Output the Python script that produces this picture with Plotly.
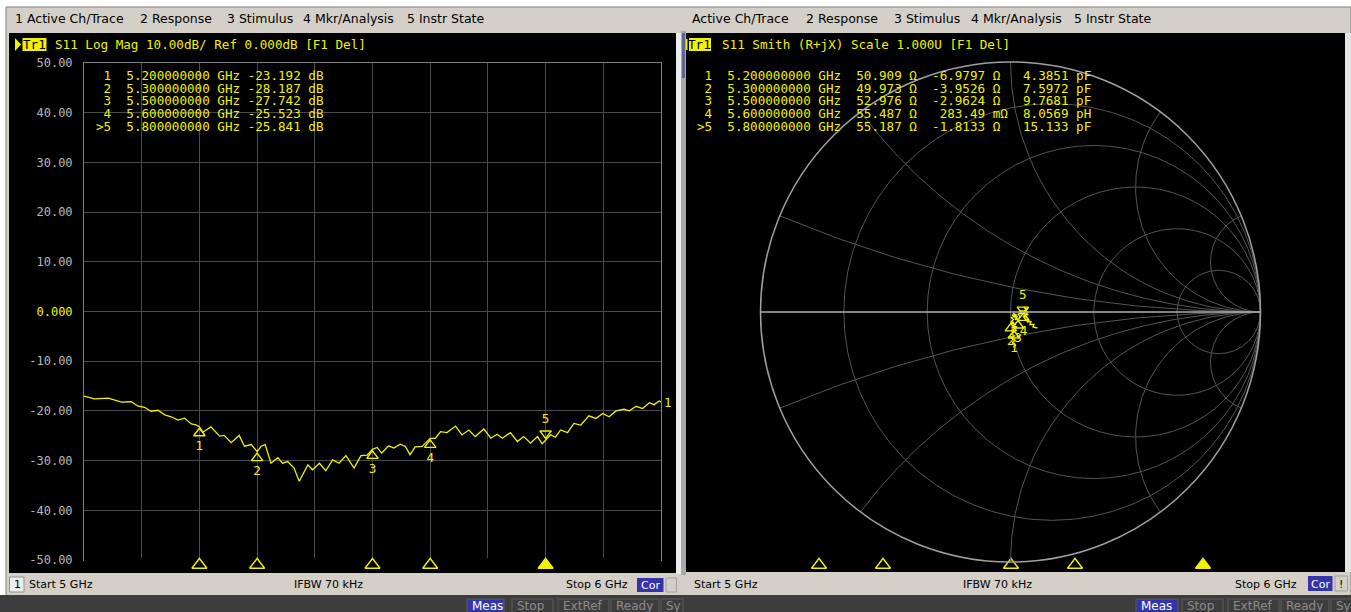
import numpy as np
import plotly.graph_objects as go

W, H = 1351, 612
YEL = "#f2f200"
GRID = "#4a4a4a"
FRAME = "#808080"
UI = "#d4d0c8"
MONO = "DejaVu Sans Mono"
SANS = "DejaVu Sans"

# ---- S11 log-magnitude sweep, 5-6 GHz ----
freq_ghz = [5.000, 5.018, 5.042, 5.053, 5.065, 5.082, 5.093, 5.105, 5.116, 5.128,
            5.140, 5.151, 5.163, 5.174, 5.186, 5.194, 5.200, 5.206, 5.220, 5.235,
            5.243, 5.255, 5.269, 5.278, 5.290, 5.300, 5.307, 5.314, 5.324, 5.336,
            5.344, 5.353, 5.364, 5.373, 5.388, 5.396, 5.408, 5.419, 5.431, 5.442,
            5.454, 5.468, 5.480, 5.491, 5.500, 5.508, 5.516, 5.528, 5.537, 5.548,
            5.557, 5.565, 5.574, 5.586, 5.600, 5.609, 5.618, 5.629, 5.644, 5.655,
            5.667, 5.678, 5.693, 5.705, 5.716, 5.725, 5.739, 5.751, 5.762, 5.774,
            5.786, 5.794, 5.800, 5.809, 5.817, 5.826, 5.838, 5.849, 5.861, 5.875,
            5.887, 5.899, 5.910, 5.922, 5.936, 5.945, 5.957, 5.968, 5.980, 5.988,
            5.997, 6.000]
s11_db = [-17.04, -17.57, -17.43, -17.83, -18.22, -18.16, -19.01, -19.28, -20.07, -19.87,
          -20.79, -21.18, -21.84, -21.45, -22.63, -22.83, -23.192, -24.28, -23.22, -25.07,
          -24.93, -26.38, -24.93, -27.11, -26.78, -28.187, -27.11, -26.78, -30.53, -29.41,
          -30.53, -30.20, -31.51, -34.14, -30.86, -31.84, -30.53, -32.04, -29.87, -30.53,
          -29.01, -31.51, -29.01, -28.88, -27.742, -27.35, -28.48, -27.02, -27.48, -26.69,
          -27.15, -28.81, -27.22, -27.15, -25.523, -25.50, -24.17, -24.37, -23.05, -24.83,
          -23.84, -25.17, -23.64, -25.50, -24.70, -25.50, -24.37, -26.16, -25.17, -26.49,
          -25.17, -26.62, -25.841, -24.83, -25.30, -23.84, -24.37, -22.52, -22.85, -20.99,
          -21.52, -20.53, -21.19, -20.00, -19.67, -20.00, -19.07, -19.54, -18.34, -18.74,
          -18.01, -18.21]

# ---- S11 reflection coefficient (Smith trace), 5-6 GHz ----
smith_gamma_re = [0.012, 0.020, 0.008, 0.018, 0.006, 0.016, 0.004, 0.014, 0.004, 0.014,
                  0.026, 0.008, 0.022, 0.004, 0.014, 0.001, 0.012, 0.002, 0.016, 0.006,
                  0.020, 0.010, 0.024, 0.014, 0.028, 0.018, 0.030, 0.040, 0.030, 0.044,
                  0.036, 0.048, 0.052, 0.062, 0.054, 0.066, 0.058, 0.070, 0.060, 0.072,
                  0.056, 0.064, 0.050, 0.060, 0.072, 0.066, 0.082, 0.078, 0.094, 0.090,
                  0.108]
smith_gamma_im = [-0.140, -0.132, -0.122, -0.112, -0.104, -0.095, -0.088, -0.080, -0.074, -0.068,
                  -0.060, -0.056, -0.050, -0.046, -0.042, -0.040, -0.030, -0.022, -0.018, -0.012,
                  -0.010, -0.004, -0.012, -0.020, -0.018, -0.030, -0.028, -0.020, -0.008, -0.006,
                  0.006, 0.004, 0.003, 0.010, 0.020, 0.012, 0.004, 0.000, -0.006, -0.010,
                  -0.012, -0.022, -0.016, -0.030, -0.028, -0.040, -0.038, -0.050, -0.050, -0.060,
                  -0.064]

# ---- markers ----
mkr_id = ["1", "2", "3", "4", "5"]
mkr_freq = [5.2, 5.3, 5.5, 5.6, 5.8]
mkr_db = [-23.192, -28.187, -27.742, -25.523, -25.841]
mkr_r_ohm = [50.909, 49.973, 52.976, 55.487, 55.187]
mkr_x_ohm = [-6.9797, -3.9526, -2.9624, 0.28349, -1.8133]
mkr_x_num = ["-6.9797", "-3.9526", "-2.9624", "283.49", "-1.8133"]
mkr_x_unit = ["Ω", "Ω", "Ω", "mΩ", "Ω"]
mkr_lc = ["4.3851 pF", "7.5972 pF", "9.7681 pF", "8.0569 pH", "15.133 pF"]
active_mkr = "5"
z0 = 50.0

y_ticks = [50, 40, 30, 20, 10, 0, -10, -20, -30, -40, -50]
y_tick_text = ["50.00", "40.00", "30.00", "20.00", "10.00",
               f"<span style='color:{YEL}'>0.000</span>",
               "-10.00", "-20.00", "-30.00", "-40.00", "-50.00"]

menu_left = [("1 Active Ch/Trace", 14), ("2 Response", 139), ("3 Stimulus", 225.5),
             ("4 Mkr/Analysis", 302), ("5 Instr State", 405.5)]
menu_right = [("Active Ch/Trace", 691), ("2 Response", 805), ("3 Stimulus", 892.5),
              ("4 Mkr/Analysis", 969.5), ("5 Instr State", 1073)]


def px(x):
    return x / W


def py(y):
    return 1 - y / H


def nb(s):
    return s.replace(" ", "\u00a0")


shapes = []
annotations = []


def rect(x0, y0, x1, y1, fill, line=None, lw=1):
    shapes.append(dict(type="rect", xref="paper", yref="paper", layer="below",
                       x0=px(x0), x1=px(x1), y0=py(y1), y1=py(y0),
                       fillcolor=fill,
                       line=dict(color=line or fill, width=lw if line else 0)))


def tri_right(x0, y0, x1, y1, color):
    ym = (y0 + y1) / 2
    shapes.append(dict(type="path", xref="paper", yref="paper", layer="above",
                       path=f"M {px(x0)} {py(y0)} L {px(x1)} {py(ym)} L {px(x0)} {py(y1)} Z",
                       fillcolor=color, line=dict(width=0)))


def text(x, y, s, size, color, family, xanchor="left", yanchor="middle"):
    annotations.append(dict(x=px(x), y=py(y), xref="paper", yref="paper", text=nb(s),
                            showarrow=False, xanchor=xanchor, yanchor=yanchor,
                            borderpad=0, font=dict(size=size, color=color, family=family)))


# ---- window chrome ----
rect(6, 7, 1351, 612, UI, "#808080")
rect(9, 33, 676, 573, "black")
rect(676, 33, 681, 574, "#ececec")
rect(681, 31, 686, 575, "#a9a9a9")
rect(682, 33, 685, 78, "#5f6590")
rect(686, 33, 1345, 572, "black")
rect(1345, 33, 1351, 572, "#e4e4e4")

# status bars
rect(9.5, 577, 24, 592, "#ececec", "#909090")
rect(637, 578, 663.5, 592, "#3434a8")
rect(666, 578, 676.5, 592, UI, "#a0a0a0")
rect(1308, 576, 1332.5, 591, "#3434a8")
rect(1335, 576, 1347.5, 591, UI, "#a0a0a0")

# bottom indicator strip
rect(0, 595, 1351, 612, "#3d3d3d")
for x0, x1, lab, fill in [(467, 504, "Meas", "#3434a8"), (512, 553, "Stop", "#3d3d3d"),
                          (558, 609, "ExtRef", "#3d3d3d"), (611, 659, "Ready", "#3d3d3d"),
                          (661, 683, "Sy", "#3d3d3d"),
                          (1136, 1178, "Meas", "#3434a8"), (1182, 1223, "Stop", "#3d3d3d"),
                          (1228, 1279, "ExtRef", "#3d3d3d"), (1281, 1329, "Ready", "#3d3d3d"),
                          (1331, 1353, "Sy", "#3d3d3d")]:
    rect(x0, 599, x1, 614, fill, "#5c5c5c")
    text(x0 + 4, 605.5, lab, 12, "white" if lab == "Meas" else "#8c8c8c", SANS)

# menu bars
for lab, x in menu_left + menu_right:
    text(x, 18.5, lab, 12.5, "black", SANS)

# status texts
text(13, 584, "1", 11, "black", SANS)
text(28, 584, "Start 5 GHz", 11, "black", SANS)
text(328, 584, "IFBW 70 kHz", 11, "black", SANS, xanchor="center")
text(629, 584, "Stop 6 GHz", 11, "black", SANS, xanchor="right")
text(650, 585, "Cor", 11, "white", SANS, xanchor="center")
text(693, 584, "Start 5 GHz", 11, "black", SANS)
text(997, 584, "IFBW 70 kHz", 11, "black", SANS, xanchor="center")
text(1298, 584, "Stop 6 GHz", 11, "black", SANS, xanchor="right")
text(1320, 584, "Cor", 11, "white", SANS, xanchor="center")
text(1341, 584, "!", 11, "black", SANS, xanchor="center")

# trace headers
tri_right(15, 38, 21, 51, YEL)
rect(22.5, 38, 46.5, 51, YEL)
text(34.5, 44.5, "Tr1", 12.6, "black", MONO, xanchor="center")
text(54, 44.5, "S11 Log Mag 10.00dB/ Ref 0.000dB [F1 Del]", 12.6, YEL, MONO)
rect(686, 39, 687.5, 50, YEL)
rect(689, 38, 711, 51, YEL)
text(700, 44.5, "Tr1", 12.6, "black", MONO, xanchor="center")
text(721, 44.5, "S11 Smith (R+jX) Scale 1.000U [F1 Del]", 12.6, YEL, MONO)

# marker readouts
for i, m in enumerate(mkr_id):
    pfx = ">" if m == active_mkr else " "
    yy = 75.5 + 12.75 * i
    row_l = f"{pfx}{m}  {mkr_freq[i]:.9f} GHz {mkr_db[i]:.3f} dB"
    text(95, yy, row_l, 12.6, YEL, MONO)
    row_r = (f"{pfx}{m}  {mkr_freq[i]:.9f} GHz  {mkr_r_ohm[i]:.3f} Ω"
             f"{mkr_x_num[i]:>9} {mkr_x_unit[i]:<3} {mkr_lc[i]}")
    text(695.5, yy, row_r, 12.6, YEL, MONO)

# trace number at the end of the log-mag sweep
annotations.append(dict(x=freq_ghz[-1], y=s11_db[-1], xref="x", yref="y", text="1",
                        showarrow=False, xanchor="left", xshift=1,
                        font=dict(family=MONO, size=12.6, color=YEL)))

fig = go.Figure()

# log-mag trace
fig.add_trace(go.Scatter(x=freq_ghz, y=s11_db, mode="lines",
                         line=dict(color=YEL, width=1.3), hoverinfo="skip"))

# on-trace marker symbols (offset a few pixels off the trace point)
px_per_db = (560 - 63) / 100.0
off_db = 6.5 / px_per_db
up = [i for i, m in enumerate(mkr_id) if m != active_mkr]
act = [i for i, m in enumerate(mkr_id) if m == active_mkr]
fig.add_trace(go.Scatter(x=[mkr_freq[i] for i in up], y=[mkr_db[i] - off_db for i in up],
                         mode="markers+text", text=[mkr_id[i] for i in up],
                         textposition="bottom center",
                         textfont=dict(family=MONO, size=12.6, color=YEL),
                         marker=dict(symbol="triangle-up-open", size=10, color=YEL,
                                     line=dict(color=YEL, width=1.4)),
                         cliponaxis=False, hoverinfo="skip"))
fig.add_trace(go.Scatter(x=[mkr_freq[i] for i in act], y=[mkr_db[i] + off_db for i in act],
                         mode="markers+text", text=[mkr_id[i] for i in act],
                         textposition="top center",
                         textfont=dict(family=MONO, size=12.6, color=YEL),
                         marker=dict(symbol="triangle-down-open", size=10, color=YEL,
                                     line=dict(color=YEL, width=1.4)),
                         cliponaxis=False, hoverinfo="skip"))

# reference level arrows
fig.add_trace(go.Scatter(x=[5 - 3.5 / 577, 6 + 8.5 / 577], y=[0, 0], mode="markers",
                         marker=dict(symbol=["triangle-right", "triangle-left"], size=14,
                                     color=YEL, line=dict(width=0)),
                         cliponaxis=False, hoverinfo="skip"))

# stimulus position markers along the bottom of each panel
for xa, ya in [("x3", "y3"), ("x2", "y2")]:
    fig.add_trace(go.Scatter(x=mkr_freq, y=[0.5] * 5, mode="markers", xaxis=xa, yaxis=ya,
                             marker=dict(symbol=["triangle-up" if m == active_mkr else "triangle-up-open"
                                                 for m in mkr_id],
                                         size=13, color=YEL, line=dict(color=YEL, width=1.4)),
                             cliponaxis=False, hoverinfo="skip"))

# Smith chart trace
g = np.array(smith_gamma_re) + 1j * np.array(smith_gamma_im)
z = (1 + g) / (1 - g)
fig.add_trace(go.Scattersmith(real=z.real, imag=z.imag, mode="lines",
                              line=dict(color=YEL, width=1.3), hoverinfo="skip"))

# Smith markers (symbol sits a few pixels off the marker point)
zm = (np.array(mkr_r_ohm) + 1j * np.array(mkr_x_ohm)) / z0
gm = (zm - 1) / (zm + 1)
g_off = 6.5 / 250.0
for idx, sym, pos, sgn in [(up, "triangle-up-open", "bottom center", -1),
                           (act, "triangle-down-open", "top center", 1)]:
    gg = gm[idx] + 1j * sgn * g_off
    zz = (1 + gg) / (1 - gg)
    fig.add_trace(go.Scattersmith(real=zz.real, imag=zz.imag, mode="markers+text",
                                  text=[mkr_id[i] for i in idx], textposition=pos,
                                  textfont=dict(family=MONO, size=12.6, color=YEL),
                                  marker=dict(symbol=sym, size=10, color=YEL,
                                              line=dict(color=YEL, width=1.4)),
                                  hoverinfo="skip"))

fig.update_layout(
    width=W, height=H, margin=dict(l=0, r=0, t=0, b=0, pad=0, autoexpand=False),
    paper_bgcolor="white", plot_bgcolor="black", showlegend=False,
    shapes=shapes, annotations=annotations,
    xaxis=dict(domain=[px(84), px(661)], range=[5, 6], tick0=5, dtick=0.1,
               showticklabels=False, ticks="", showgrid=True, gridcolor=GRID, gridwidth=1,
               showline=True, mirror=True, linecolor=FRAME, linewidth=1, zeroline=False,
               fixedrange=True, automargin=False),
    yaxis=dict(domain=[py(560), py(63)], range=[-50, 50], tickvals=y_ticks,
               ticktext=y_tick_text, tickfont=dict(family=MONO, size=12, color="#b8b8b8"),
               ticks="", ticklabelstandoff=8, showgrid=True, gridcolor=GRID, gridwidth=1,
               showline=True, mirror=True, linecolor=FRAME, linewidth=1, zeroline=False,
               fixedrange=True, automargin=False),
    xaxis2=dict(domain=[px(691), px(1331)], range=[5, 6], visible=False, anchor="y2",
                automargin=False),
    yaxis2=dict(domain=[py(572), py(558)], range=[0, 1], visible=False, anchor="x2",
                automargin=False),
    xaxis3=dict(domain=[px(84), px(661)], range=[5, 6], visible=False, anchor="y3",
                automargin=False),
    yaxis3=dict(domain=[py(572), py(558)], range=[0, 1], visible=False, anchor="x3",
                automargin=False),
    smith=dict(
        domain=dict(x=[px(760), px(1261)], y=[py(562), py(62)]),
        bgcolor="rgba(0,0,0,0)",
        realaxis=dict(tickvals=[0.2, 0.5, 1, 2, 5], showticklabels=False, ticks="",
                      showgrid=True, gridcolor="#555555", gridwidth=1,
                      showline=True, linecolor="#b0b0b0", linewidth=1.5),
        imaginaryaxis=dict(tickvals=[-5, -2, -1, -0.5, -0.2, 0.2, 0.5, 1, 2, 5],
                           showticklabels=False, ticks="",
                           showgrid=True, gridcolor="#555555", gridwidth=1,
                           showline=True, linecolor="#a0a0a0", linewidth=1.5),
    ),
)

fig.write_html("out.html", config={"displayModeBar": False})
